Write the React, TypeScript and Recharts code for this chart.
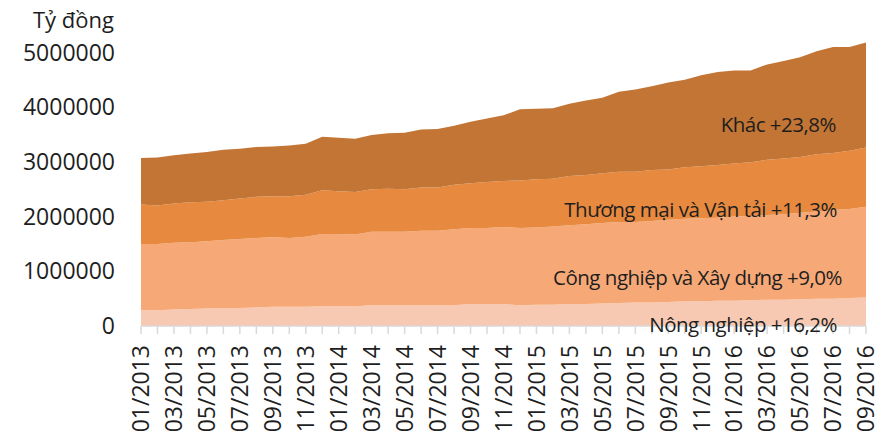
import React from 'react';
import { AreaChart, Area, XAxis, YAxis } from 'recharts';

const months = [
  '01/2013', '02/2013', '03/2013', '04/2013', '05/2013', '06/2013', '07/2013', '08/2013', '09/2013', '10/2013', '11/2013', '12/2013',
  '01/2014', '02/2014', '03/2014', '04/2014', '05/2014', '06/2014', '07/2014', '08/2014', '09/2014', '10/2014', '11/2014', '12/2014',
  '01/2015', '02/2015', '03/2015', '04/2015', '05/2015', '06/2015', '07/2015', '08/2015', '09/2015', '10/2015', '11/2015', '12/2015',
  '01/2016', '02/2016', '03/2016', '04/2016', '05/2016', '06/2016', '07/2016', '08/2016', '09/2016',
];

const nongNghiep = [
  290000, 290000, 300000, 310000, 320000, 330000, 330000, 340000, 350000, 350000, 350000, 360000,
  360000, 360000, 380000, 380000, 380000, 380000, 380000, 380000, 400000, 400000, 400000, 380000,
  390000, 390000, 400000, 400000, 410000, 420000, 430000, 430000, 440000, 450000, 450000, 460000,
  460000, 470000, 480000, 480000, 490000, 500000, 500000, 510000, 520000,
];

const congNghiep = [
  1210000, 1210000, 1220000, 1220000, 1230000, 1240000, 1260000, 1270000, 1270000, 1260000, 1280000, 1320000,
  1320000, 1310000, 1340000, 1340000, 1340000, 1360000, 1360000, 1390000, 1390000, 1390000, 1410000, 1410000,
  1410000, 1430000, 1440000, 1460000, 1470000, 1480000, 1470000, 1490000, 1500000, 1510000, 1520000, 1520000,
  1540000, 1540000, 1550000, 1560000, 1580000, 1590000, 1620000, 1630000, 1660000,
];

const thuongMai = [
  720000, 700000, 720000, 730000, 720000, 730000, 740000, 750000, 750000, 760000, 770000, 800000,
  780000, 780000, 780000, 790000, 780000, 790000, 790000, 810000, 820000, 840000, 840000, 870000,
  880000, 870000, 900000, 900000, 910000, 920000, 920000, 930000, 920000, 940000, 950000, 960000,
  970000, 980000, 1010000, 1020000, 1020000, 1050000, 1040000, 1060000, 1080000,
];

const khac = [
  850000, 880000, 880000, 890000, 910000, 920000, 910000, 910000, 910000, 930000, 930000, 980000,
  980000, 970000, 990000, 1010000, 1030000, 1060000, 1070000, 1080000, 1120000, 1160000, 1200000, 1300000,
  1290000, 1290000, 1320000, 1360000, 1380000, 1460000, 1500000, 1530000, 1590000, 1600000, 1660000, 1700000,
  1700000, 1680000, 1740000, 1780000, 1820000, 1880000, 1940000, 1900000, 1920000,
];

const yTicks = [0, 1000000, 2000000, 3000000, 4000000, 5000000];

const data = months.map((m, i) => ({
  month: m,
  nongNghiep: nongNghiep[i],
  congNghiep: congNghiep[i],
  thuongMai: thuongMai[i],
  khac: khac[i],
}));

const FONT = '"Open Sans", sans-serif';
const TEXT = '#1e1e1e';

const XTick = (props: any) => {
  const { x, y, payload, index } = props;
  if (index % 2 !== 0) return null;
  return (
    <g transform={`translate(${x},${y})`}>
      <text
        transform="rotate(-90)"
        x={0}
        y={0}
        dy="0.36em"
        textAnchor="end"
        fontFamily={FONT}
        fontSize={23}
        fill={TEXT}
      >
        {payload.value}
      </text>
    </g>
  );
};

export default function App() {
  return (
    <div style={{ position: 'absolute', left: 0, top: 0, width: 885, height: 436, background: '#fff' }}>
      <AreaChart
        width={885}
        height={436}
        data={data}
        margin={{ top: 25, right: 19, bottom: 0, left: 0 }}
      >
        <XAxis
          dataKey="month"
          interval={0}
          height={110}
          tickSize={8}
          tickMargin={11}
          tick={<XTick />}
          axisLine={{ stroke: '#d9d9d9', strokeWidth: 1.5 }}
          tickLine={{ stroke: '#d9d9d9', strokeWidth: 1.5 }}
        />
        <YAxis
          width={141}
          domain={[0, 5500000]}
          ticks={yTicks}
          interval={0}
          axisLine={false}
          tickLine={false}
          tickSize={0}
          tickMargin={26}
          tick={{ fontFamily: FONT, fontSize: 23, fill: TEXT }}
        />
        <Area type="linear" dataKey="nongNghiep" stackId="1" stroke="none" fill="#f7c9b2" fillOpacity={1} isAnimationActive={false} />
        <Area type="linear" dataKey="congNghiep" stackId="1" stroke="none" fill="#f6a977" fillOpacity={1} isAnimationActive={false} />
        <Area type="linear" dataKey="thuongMai" stackId="1" stroke="none" fill="#e78a40" fillOpacity={1} isAnimationActive={false} />
        <Area type="linear" dataKey="khac" stackId="1" stroke="none" fill="#c27534" fillOpacity={1} isAnimationActive={false} />
      </AreaChart>
      <svg
        width={885}
        height={436}
        style={{ position: 'absolute', left: 0, top: 0, pointerEvents: 'none' }}
      >
        <text x={33} y={28} fontFamily={FONT} fontSize={22} fill={TEXT}>Tỷ đồng</text>
        <g fontFamily={FONT} fontSize={20.5} fill={TEXT} letterSpacing={-0.5} textAnchor="end">
          <text x={836} y={132}>Khác +23,8%</text>
          <text x={837} y={217}>Thương mại và Vận tải +11,3%</text>
          <text x={842} y={285}>Công nghiệp và Xây dựng +9,0%</text>
          <text x={837} y={332}>Nông nghiệp +16,2%</text>
        </g>
      </svg>
    </div>
  );
}
